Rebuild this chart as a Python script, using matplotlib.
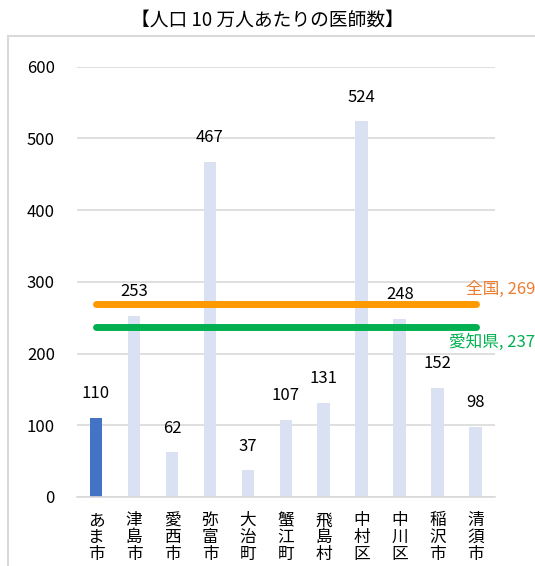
import matplotlib.pyplot as plt
from matplotlib.patches import Rectangle

plt.rcParams['font.family'] = ['Noto Sans CJK JP', 'DejaVu Sans']

# Physicians per 100,000 people
cities = ["あま市", "津島市", "愛西市", "弥富市", "大治町", "蟹江町",
          "飛島村", "中村区", "中川区", "稲沢市", "清須市"]
doctors = [110, 253, 62, 467, 37, 107, 131, 524, 248, 152, 98]
national_avg = 269
aichi_avg = 237

fig = plt.figure(figsize=(5.35, 5.66), dpi=100)
ax = fig.add_axes([0.144, 0.122, 0.781, 0.760])

# outer chart frame
fig.patches.append(Rectangle((8 / 535, -0.05), 1.0, 1 - 36 / 566 + 0.05,
                             transform=fig.transFigure, fill=False,
                             edgecolor="#D9D9D9", linewidth=1.5))

x = list(range(len(cities)))
colors = ["#4472C4"] + ["#D9E1F2"] * (len(cities) - 1)
ax.bar(x, doctors, width=0.34, color=colors, zorder=2)

for xi, v in zip(x, doctors):
    ax.text(xi, v + 22, str(v), ha="center", va="bottom", fontsize=12,
            color="#000000", zorder=5)

# reference lines
ax.plot([x[0], x[-1]], [national_avg, national_avg], color="#FF9900",
        linewidth=5, solid_capstyle="round", zorder=3)
ax.plot([x[0], x[-1]], [aichi_avg, aichi_avg], color="#00B050",
        linewidth=5, solid_capstyle="round", zorder=3)
ax.text(x[-1] - 0.25, national_avg + 9, f"全国, {national_avg}", color="#ED7D31",
        fontsize=12, ha="left", va="bottom", clip_on=False)
ax.text(x[-1] - 0.7, aichi_avg - 9, f"愛知県, {aichi_avg}", color="#00B050",
        fontsize=12, ha="left", va="top", clip_on=False)

ax.set_xlim(-0.5, len(cities) - 0.5)
ax.set_ylim(0, 600)
ax.set_yticks(range(0, 601, 100))
ax.grid(axis="y", color="#D9D9D9", linewidth=1.2, zorder=0)
ax.set_axisbelow(True)
for side in ["top", "right", "left"]:
    ax.spines[side].set_visible(False)
ax.spines["bottom"].set_color("#D9D9D9")
ax.spines["bottom"].set_linewidth(1.2)

ax.set_xticks(x)
ax.set_xticklabels(["\n".join(c) for c in cities], fontsize=12, linespacing=0.98)
ax.tick_params(axis="x", length=0, pad=11)
ax.tick_params(axis="y", length=0, pad=16, labelsize=12)

fig.text(0.5, 1 - 20 / 566, "【人口 10 万人あたりの医師数】", ha="center", va="center",
         fontsize=13.5)

fig.savefig("out.png", dpi=100)
